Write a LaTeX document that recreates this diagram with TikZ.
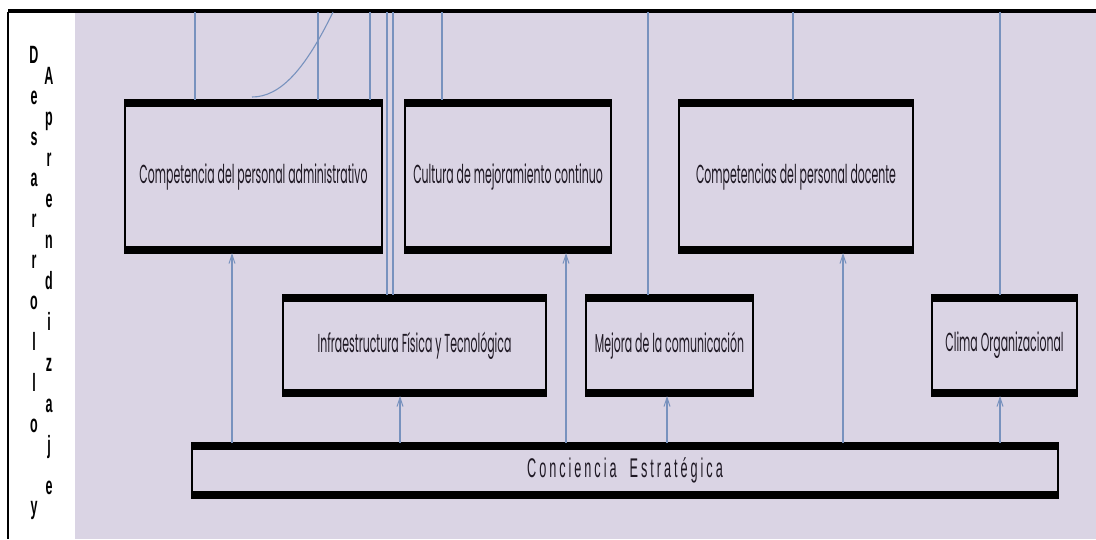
\documentclass[tikz,border=0pt]{standalone}
\usepackage{fontspec}
\usetikzlibrary{arrows.meta,calc}
\newfontfamily\boxfont[FakeStretch=0.42]{Poppins}
\newfontfamily\sidefont[FakeStretch=0.5]{Liberation Sans}
\newfontfamily\csfont[FakeStretch=0.47,LetterSpace=11]{Liberation Sans}
\definecolor{bg}{RGB}{218,212,228}
\definecolor{ln}{RGB}{120,146,190}
\definecolor{txt}{RGB}{30,24,35}
\begin{document}
\begin{tikzpicture}[x=1pt,y=-1pt,
  box/.style={draw=black,line width=1.3pt,fill=bg,inner sep=0pt,outer sep=0pt,
    font=\boxfont\fontsize{26}{28}\selectfont,text=txt},
  conn/.style={draw=ln,line width=1.1pt},
  arr/.style={conn,-{Straight Barb[length=9pt,width=6pt,line width=1pt]}},
  side/.style={font=\sidefont\bfseries\fontsize{25}{27}\selectfont,inner sep=0pt,anchor=base},
]
\useasboundingbox (0,0) rectangle (1096,539);
\fill[white] (0,0) rectangle (1096,539);
\fill[bg] (75,12) rectangle (1096,539);
\draw[line width=1.2pt] (8,12) -- (8,539);
\draw[line width=3.5pt] (8,11) -- (1096,11);

% boxes
\node[box,minimum width=257pt,minimum height=153pt] (adm) at (253.5,176.5) {Competencia del personal administrativo};
\node[box,minimum width=206pt,minimum height=153pt] (cul) at (508,176.5) {Cultura de mejoramiento continuo};
\node[box,minimum width=234pt,minimum height=153pt] (doc) at (796,176.5) {Competencias del personal docente};
\node[box,minimum width=263pt,minimum height=101pt] (inf) at (414.5,345.5) {Infraestructura Física y Tecnológica};
\node[box,minimum width=167pt,minimum height=101pt] (mej) at (669.5,345.5) {Mejora de la comunicación};
\node[box,minimum width=145pt,minimum height=101pt] (cli) at (1004.5,345.5) {Clima Organizacional};
\node[box,minimum width=866pt,minimum height=55pt,font=\csfont\fontsize{27}{29}\selectfont] (cs) at (625,470.5) {Conciencia\ \ Estratégica};

\foreach \n in {adm,cul,doc,inf,mej,cli,cs}{
  \fill (\n.north west) rectangle ([yshift=-7pt]\n.north east);
  \fill ([yshift=7pt]\n.south west) rectangle (\n.south east);
}

% lines from the top border
\foreach \x/\b [count=\i] in {195/adm,318/adm,370/adm,387/inf,393/inf,442/cul,648/mej,793/doc,1000/cli}{
  \coordinate (t\i) at (\x,12);
  \draw[conn] (t\i) -- (t\i |- \b.north);
}
\coordinate (k1) at (333,12);
\coordinate (k2) at (252,97);
\draw[conn] (k1) .. controls (305,70) and (280,97) .. (k2);

% arrows from Conciencia Estrategica
\foreach \x/\b [count=\i] in {232/adm,400/inf,566/cul,667/mej,843/doc,1000/cli}{
  \coordinate (a\i) at (\x,0);
  \draw[arr] (a\i |- cs.north) -- (a\i |- \b.south);
}

% side letters
\foreach \c [count=\i from 0] in {D,e,s,a,r,r,o,l,l,o}
  \node[side] (da\i) at (34,63+41*\i) {\c};
\node[side] (dy) at (34,514) {y};
\foreach \c [count=\i from 0] in {A,p,r,e,n,d,i,z,a,j,e}
  \node[side] (ap\i) at (49,84+41*\i) {\c};
\end{tikzpicture}
\end{document}
